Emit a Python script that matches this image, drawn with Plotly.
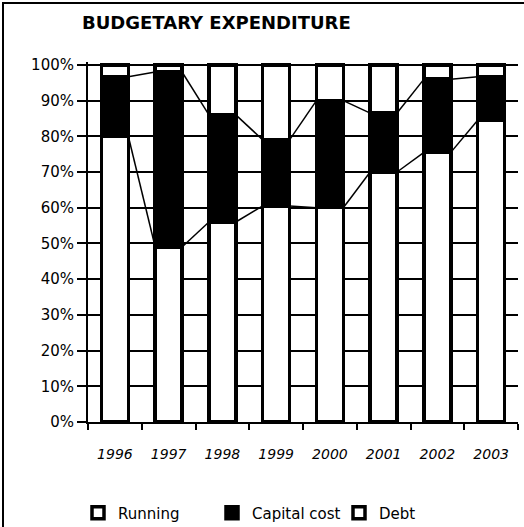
import plotly.graph_objects as go

years = ["1996", "1997", "1998", "1999", "2000", "2001", "2002", "2003"]
running = [80, 49, 56, 60.5, 60, 70, 75.5, 84.5]
capital = [16.7, 49, 30, 18.5, 30, 16.5, 20.5, 12.2]
debt = [3.3, 2, 14, 21, 10, 13.5, 4, 3.3]
y_ticks = [0, 10, 20, 30, 40, 50, 60, 70, 80, 90, 100]

FONT = "DejaVu Sans"
W, H = 524, 527
L, R, T, B = 88, 6, 62, 105
PH = H - T - B
PW = W - L - R
BW = 0.5  # bar width (category units)

def px_x(px):
    return (px - L) / PW

def px_y(py):
    return (H - B - py) / PH

xs = list(range(len(years)))
fig = go.Figure()

series = [("Running", running, "white", "legend"),
          ("Capital cost", capital, "black", "legend2"),
          ("Debt", debt, "white", "legend3")]
for name, vals, col, lg in series:
    fig.add_trace(go.Bar(
        x=xs, y=vals, name=name, width=BW,
        marker=dict(color=col, line=dict(color="black", width=3.5)),
        legend=lg,
    ))

# series lines between stacked segment tops
cum = [0.0] * len(years)
for name, vals, col, lg in series:
    cum = [c + v for c, v in zip(cum, vals)]
    lx, ly = [], []
    for i in range(len(years) - 1):
        lx += [i + BW / 2, i + 1 - BW / 2, None]
        ly += [cum[i], cum[i + 1], None]
    fig.add_trace(go.Scatter(x=lx, y=ly, mode="lines", showlegend=False,
                             line=dict(color="black", width=1.5),
                             hoverinfo="skip"))

fig.update_layout(
    width=W, height=H,
    margin=dict(l=L, r=R, t=T, b=B, autoexpand=False),
    paper_bgcolor="white", plot_bgcolor="white",
    barmode="stack",
    font=dict(family=FONT, color="black", size=14),
    xaxis=dict(
        range=[-0.5, len(years) - 0.5],
        tickmode="array", tickvals=xs, ticktext=years,
        ticks="", showgrid=False, zeroline=False,
        showline=True, linecolor="black", linewidth=2,
        tickfont=dict(family=FONT, size=14, style="italic"),
        ticklabelstandoff=18,
        minor=dict(tickmode="array",
                   tickvals=[i - 0.5 for i in range(len(years) + 1)],
                   ticks="outside", ticklen=6, tickwidth=2,
                   tickcolor="black", showgrid=False),
    ),
    yaxis=dict(
        range=[0, 100.8],
        tickmode="array", tickvals=y_ticks,
        ticktext=[f"{v}%" for v in y_ticks],
        ticks="outside", ticklen=9, tickwidth=2, tickcolor="black",
        showgrid=True, gridcolor="black", gridwidth=2,
        zeroline=False,
        showline=True, linecolor="black", linewidth=2,
        tickfont=dict(family=FONT, size=15),
    ),
    showlegend=True,
)

leg_common = dict(orientation="h", yanchor="middle", xanchor="left",
                  yref="container", xref="container",
                  y=(H - 513) / H, bgcolor="rgba(0,0,0,0)", borderwidth=0,
                  font=dict(family=FONT, size=15, color="black"))
fig.update_layout(
    legend=dict(x=78 / W, **leg_common),
    legend2=dict(x=212 / W, **leg_common),
    legend3=dict(x=339 / W, **leg_common),
)

fig.add_annotation(text="<b>BUDGETARY EXPENDITURE</b>", xref="paper", yref="paper",
                   x=px_x(80), y=px_y(23), xanchor="left", yanchor="middle",
                   showarrow=False, font=dict(family=FONT, size=18, color="black"))

# outer chart frame (extends past right/bottom of the picture)
fig.add_shape(type="rect", xref="paper", yref="paper",
              x0=px_x(3), x1=px_x(560), y0=px_y(560), y1=px_y(3),
              line=dict(color="black", width=2), fillcolor="rgba(0,0,0,0)",
              layer="below")

fig.write_html("out.html")
